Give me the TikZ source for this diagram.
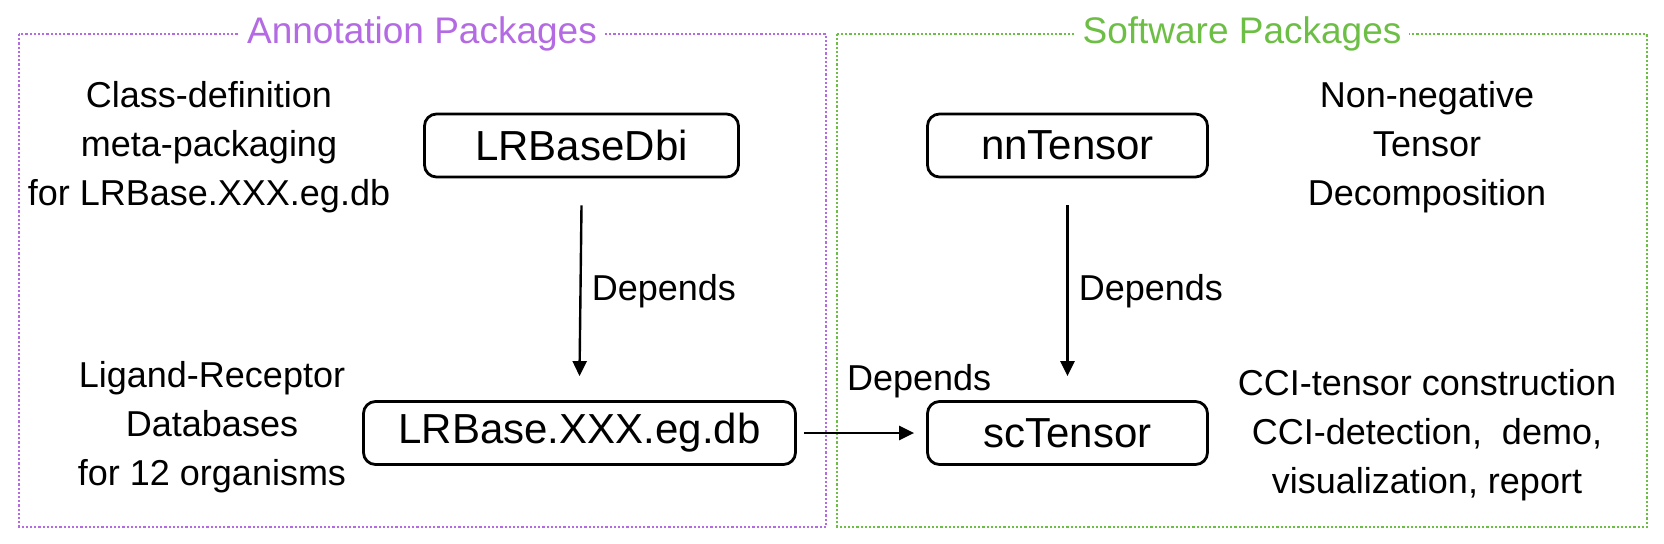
\documentclass[tikz,border=0pt]{standalone}
\usepackage{fontspec}
\setmainfont{Liberation Sans}
\usetikzlibrary{arrows.meta,positioning}
\definecolor{AnnotPurple}{HTML}{B36AE2}
\definecolor{SoftGreen}{HTML}{6DBE45}
\tikzset{pkg/.style={rectangle,rounded corners=6pt,draw=black,line width=1.4pt,minimum height=31.5pt,inner sep=0pt,font=\fontsize{21}{25}\selectfont},depends/.style={draw=black,line width=1.2pt,-{Triangle[length=7.5pt,width=7pt]}},dependslabel/.style={font=\fontsize{18}{22}\selectfont},note/.style={align=center,font=\fontsize{18}{24.5}\selectfont},group/.style={dash pattern=on 1.1pt off 1pt,line width=1.1pt},grouptitle/.style={fill=white,inner xsep=4pt,font=\fontsize{18.5}{22}\selectfont}}
\begin{document}
\begin{tikzpicture}[x=0.5pt,y=-0.5pt]
\useasboundingbox (0,0) rectangle (1664,543);
\draw[group,draw=AnnotPurple] (19,34) rectangle (826,527);
\draw[group,draw=SoftGreen] (837,34) rectangle (1647,527);
\node[grouptitle,text=AnnotPurple] (annottitle) at (422,34) {Annotation Packages};
\node[grouptitle,text=SoftGreen] (softtitle) at (1242,34) {Software Packages};
\node[pkg,minimum width=157pt] (dbi) at (581.5,145.5) {LRBaseDbi};
\node[pkg,minimum width=216pt] (lrbase) at (579.5,433) {LRBase.XXX.eg.db};
\node[pkg,minimum width=140pt] (nntensor) at (1067.5,145.5) {nnTensor};
\node[pkg,minimum width=140pt] (sctensor) at (1067.5,433) {scTensor};
\draw[depends] ([yshift=-13.5pt]dbi.south) -- ([yshift=12pt]lrbase.north) node[dependslabel,midway,right,xshift=1.7pt] {Depends};
\draw[depends] ([yshift=-13.5pt]nntensor.south) -- ([yshift=12pt]sctensor.north) node[dependslabel,midway,right,xshift=1.7pt] {Depends};
\draw[depends] ([xshift=3.5pt]lrbase.east) -- ([xshift=-6pt]sctensor.west) node[dependslabel,pos=1,above=13.7pt,xshift=2.5pt] {Depends};
\node[note] (classdef) at (209,147) {Class-definition\\meta-packaging\\for LRBase.XXX.eg.db};
\node[note] (lrdb) at (212,427) {Ligand-Receptor\\Databases\\for 12 organisms};
\node[note] (nmf) at (1427,147) {Non-negative\\Tensor\\Decomposition};
\node[note] (cci) at (1427,435) {CCI-tensor construction\\CCI-detection,\ \ demo,\\visualization, report};
\end{tikzpicture}
\end{document}
